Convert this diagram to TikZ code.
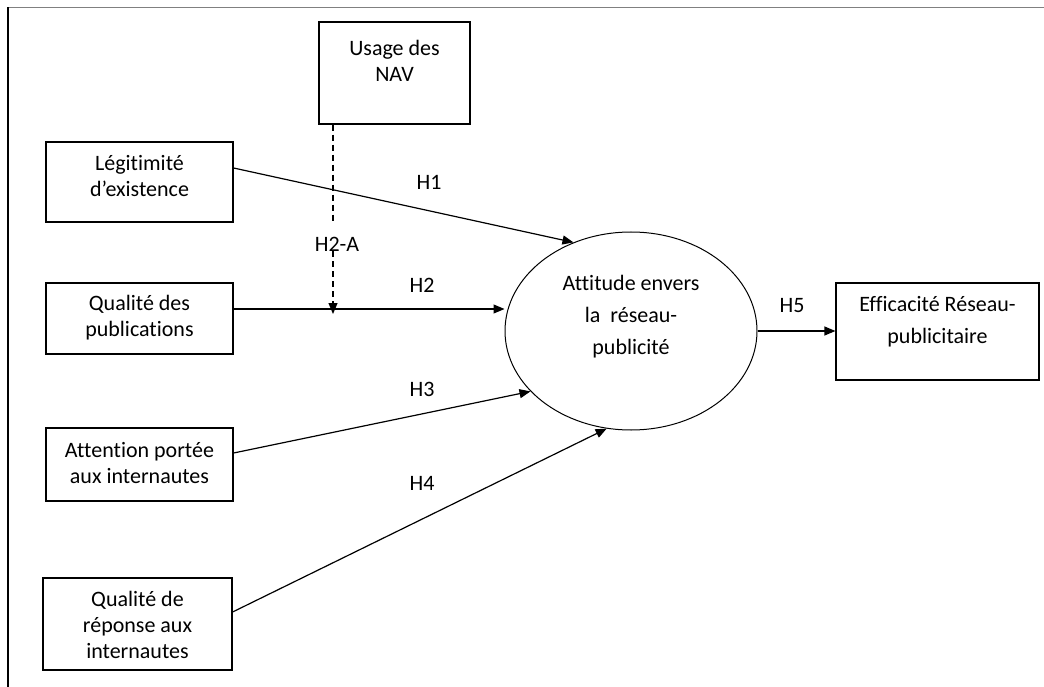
\documentclass[tikz,border=0pt]{standalone}
\usepackage{fontspec}
\setmainfont{Carlito}[Ligatures=NoCommon]
\usetikzlibrary{arrows.meta,shapes.geometric}

\begin{document}
\begin{tikzpicture}[x=1pt,y=-1pt,
	box/.style={draw,line width=1.2pt,inner sep=0pt},
	txt/.style={align=center,inner sep=0pt,font=\fontsize{22}{26}\selectfont},
	widetxt/.style={align=center,inner sep=0pt,font=\fontsize{22}{32}\selectfont},
	hyp/.style={inner sep=0pt,font=\fontsize{22}{26}\selectfont},
	link/.style={line width=1.2pt,-{Triangle[length=11pt,width=9pt]}}]
	\useasboundingbox (0,0) rectangle (1044,687);
	\draw[line width=1.8pt,gray] (8,7.5) -- (1044,7.5);
	\draw[line width=1.3pt] (8,7.5) -- (8,687);

	\node[box,minimum width=151pt,minimum height=102pt] (nav) at (394.5,73) {};
	\node[txt] (navtxt) at (394.5,60.5) {Usage des\\NAV};
	\node[box,minimum width=187pt,minimum height=80pt] (leg) at (139.5,182) {};
	\node[txt] (legtxt) at (139.5,176) {Légitimité\\d’existence};
	\node[box,minimum width=187pt,minimum height=71pt] (pub) at (139.5,318.5) {};
	\node[txt] (pubtxt) at (139.5,318) {Qualité des\\publications};
	\node[box,minimum width=187pt,minimum height=73pt] (att) at (139.5,464.5) {};
	\node[txt] (atttxt) at (139.5,463.5) {Attention portée\\aux internautes};
	\node[box,minimum width=189pt,minimum height=92pt] (rep) at (137.5,624) {};
	\node[txt] (reptxt) at (137.5,625) {Qualité de\\réponse aux\\internautes};
	\node[box,minimum width=203pt,minimum height=97pt] (eff) at (937.5,331.5) {};
	\node[widetxt] (efftxt) at (937.5,322) {Efficacité Réseau-\\publicitaire};
	\node[draw,ellipse,line width=1pt,inner sep=0pt,minimum width=252pt,minimum height=198pt] (ell) at (631,331) {};
	\node[widetxt] (elltxt) at (631,317) {Attitude envers\\la\ \ réseau-\\publicité};

	\node[hyp] (h1) at (429,182) {H1};
	\node[hyp] (h2) at (422,285.5) {H2};
	\node[hyp] (h2a) at (337,244) {H2-A};
	\node[hyp] (h3) at (422,389) {H3};
	\node[hyp] (h4) at (422,483) {H4};
	\node[hyp] (h5) at (792,305.5) {H5};

	\coordinate (pubout) at ([yshift=9.5pt]pub.east);
	\coordinate (mod) at (333,314);
	\coordinate (modtop) at (333,222);

	\draw[link] ([yshift=14pt]leg.east) -- (ell.123);
	\draw[link] (pubout) -- (pubout -| ell.west);
	\draw[link] ([yshift=11.5pt]att.east) -- (ell.211);
	\draw[link] ([yshift=12pt]rep.east) -- (ell.256);
	\draw[link] (ell.east) -- (ell.east -| eff.west);
	\draw[line width=1.2pt,dash pattern=on 6pt off 4pt] (nav.south -| mod) -- (modtop);
	\draw[link,dash pattern=on 6pt off 4pt] (h2a.south -| mod) -- (mod);
\end{tikzpicture}
\end{document}
